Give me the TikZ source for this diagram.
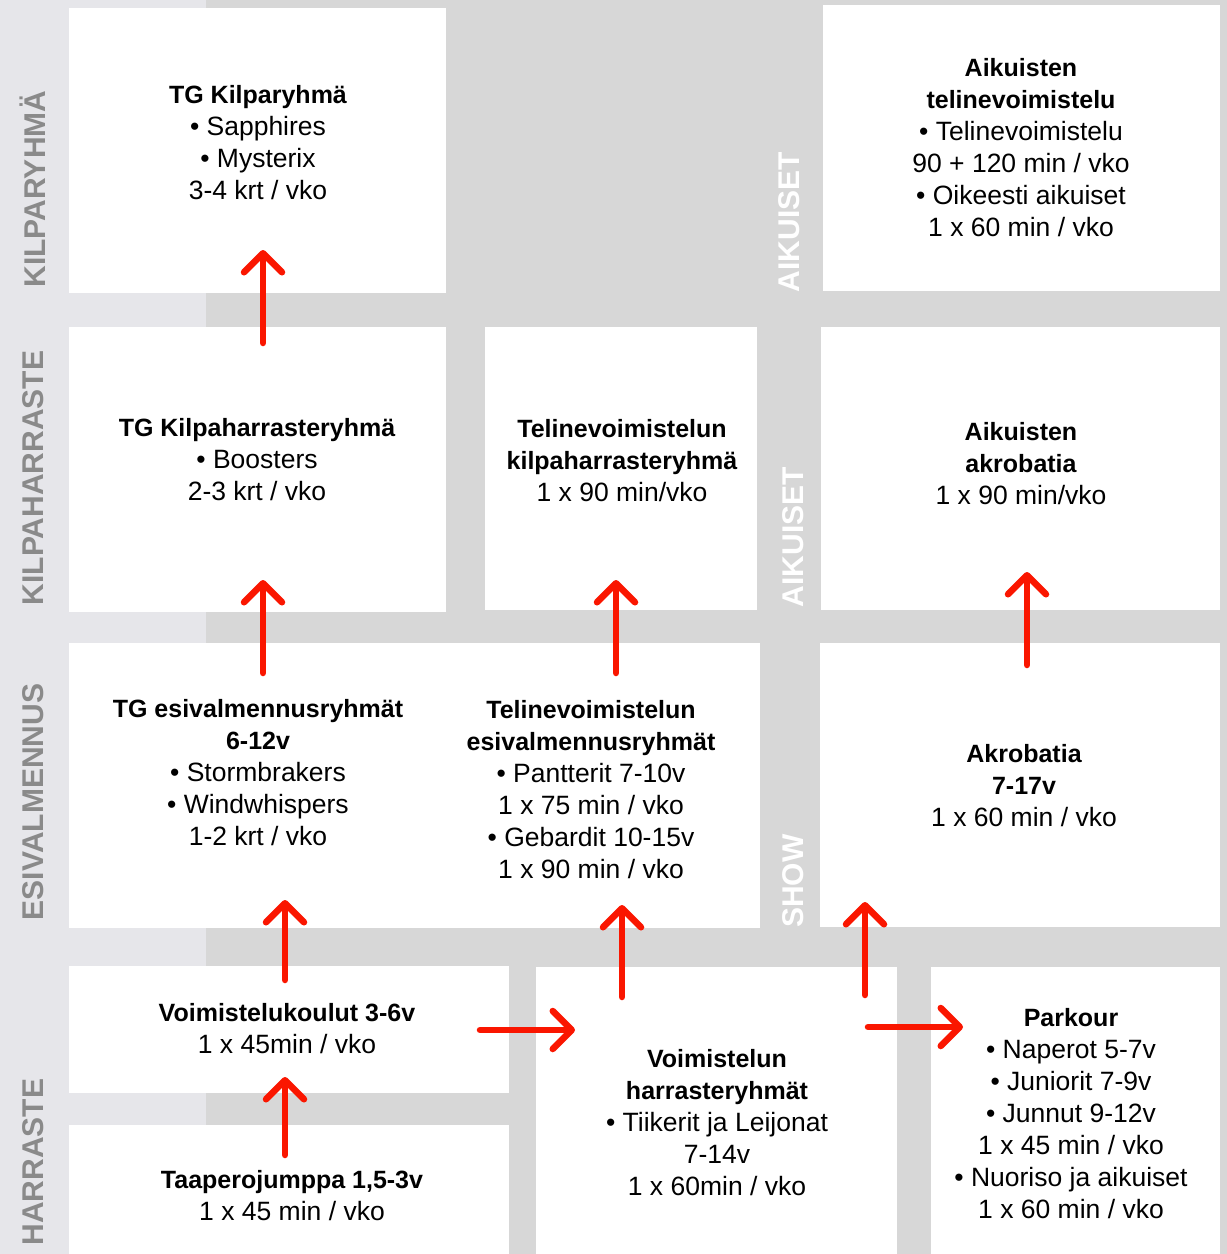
\documentclass[tikz,border=0pt]{standalone}
\usepackage{fontspec}
\setmainfont{Liberation Sans}
\usetikzlibrary{positioning, arrows.meta, calc}
\definecolor{pathgray}{RGB}{215, 215, 215}
\definecolor{stripgray}{RGB}{230, 230, 234}
\definecolor{levelgray}{RGB}{138, 138, 138}
\definecolor{arrowred}{RGB}{250, 22, 0}
\newcommand{\hd}[1]{{\fontsize{25}{32}\selectfont\bfseries #1}}

\begin{document}
\begin{tikzpicture}[x=1pt, y=-1pt,
                cell/.style={fill=white, draw=none, inner sep=0pt, outer sep=0pt, anchor=north west},
                info/.style={align=center, inner sep=0pt, font=\fontsize{26.5}{32}\selectfont},
                level/.style={rotate=90, inner sep=0pt, font=\fontsize{30}{30}\selectfont\bfseries, text=levelgray},
                track/.style={rotate=90, inner sep=0pt, font=\fontsize{30}{30}\selectfont\bfseries, text=white},
                uparrow/.style={draw=arrowred, line width=6.5pt, line cap=round,
                    -{Straight Barb[length=19pt, width=38pt, round]}}
            ]
            \useasboundingbox (0,0) rectangle (1227,1254);
            \fill[pathgray] (0,0) rectangle (1227,1254);
            \fill[stripgray] (0,0) rectangle (206,1254);

            % white boxes
            \node[cell, minimum width=377pt, minimum height=285pt] (kr) at (69,8) {};
            \node[cell, minimum width=397pt, minimum height=286pt] (at) at (823,5) {};
            \node[cell, minimum width=377pt, minimum height=285pt] (kh) at (69,327) {};
            \node[cell, minimum width=272pt, minimum height=283pt] (tk) at (485,327) {};
            \node[cell, minimum width=399pt, minimum height=283pt] (aa) at (821,327) {};
            \node[cell, minimum width=691pt, minimum height=285pt] (ev) at (69,643) {};
            \node[cell, minimum width=400pt, minimum height=284pt] (ak) at (820,643) {};
            \node[cell, minimum width=440pt, minimum height=127pt] (vk) at (69,966) {};
            \node[cell, minimum width=440pt, minimum height=129pt] (tj) at (69,1125) {};
            \node[cell, minimum width=361pt, minimum height=287pt] (vh) at (536,967) {};
            \node[cell, minimum width=289pt, minimum height=287pt] (pk) at (931,967) {};

            % level labels
            \node[level] (lkr) at (33,189) {KILPARYHMÄ};
            \node[level] (lkh) at (33,478) {KILPAHARRASTE};
            \node[level] (lev) at (33,802) {ESIVALMENNUS};
            \node[level] (lhr) at (33,1162) {HARRASTE};

            % track labels
            \node[track] (tat) at (789,222) {AIKUISET};
            \node[track] (taa) at (793,537) {AIKUISET};
            \node[track] (tsh) at (793,881) {SHOW};

            % texts
            \node[info] (kr-t) at (258,143)
                {\hd{TG Kilparyhmä}\\
                 • Sapphires\\
                 • Mysterix\\
                 3-4 krt / vko};
            \node[info] (at-t) at (1021,148)
                {\hd{Aikuisten}\\
                 \hd{telinevoimistelu}\\
                 • Telinevoimistelu\\
                 90 + 120 min / vko\\
                 • Oikeesti aikuiset\\
                 1 x 60 min / vko};
            \node[info] (kh-t) at (257,460)
                {\hd{TG Kilpaharrasteryhmä}\\
                 • Boosters\\
                 2-3 krt / vko};
            \node[info] (tk-t) at (622,461)
                {\hd{Telinevoimistelun}\\
                 \hd{kilpaharrasteryhmä}\\
                 1 x 90 min/vko};
            \node[info] (aa-t) at (1021,464)
                {\hd{Aikuisten}\\
                 \hd{akrobatia}\\
                 1 x 90 min/vko};
            \node[info] (ev-l) at (258,773)
                {\hd{TG esivalmennusryhmät}\\
                 \hd{6-12v}\\
                 • Stormbrakers\\
                 • Windwhispers\\
                 1-2 krt / vko};
            \node[info] (ev-r) at (591,790)
                {\hd{Telinevoimistelun}\\
                 \hd{esivalmennusryhmät}\\
                 • Pantterit 7-10v\\
                 1 x 75 min / vko\\
                 • Gebardit 10-15v\\
                 1 x 90 min / vko};
            \node[info] (ak-t) at (1024,786)
                {\hd{Akrobatia}\\
                 \hd{7-17v}\\
                 1 x 60 min / vko};
            \node[info] (vk-t) at (287,1029)
                {\hd{Voimistelukoulut 3-6v}\\
                 1 x 45min / vko};
            \node[info] (tj-t) at (292,1196)
                {\hd{Taaperojumppa 1,5-3v}\\
                 1 x 45 min / vko};
            \node[info] (vh-t) at (717,1123)
                {\hd{Voimistelun}\\
                 \hd{harrasteryhmät}\\
                 • Tiikerit ja Leijonat\\
                 7-14v\\
                 1 x 60min / vko};
            \node[info] (pk-t) at (1071,1114)
                {\hd{Parkour}\\
                 • Naperot 5-7v\\
                 • Juniorit 7-9v\\
                 • Junnut 9-12v\\
                 1 x 45 min / vko\\
                 • Nuoriso ja aikuiset\\
                 1 x 60 min / vko};

            % arrows
            \draw[uparrow] ($(kh.north)+(5.5,16)$) -- ($(kr.south)+(5.5,-43)$);
            \draw[uparrow] ($(ev.north west)+(194,30)$) -- ($(kh.south)+(5.5,-32)$);
            \draw[uparrow] ($(vk.north)+(-4,14)$) -- ($(ev.south west)+(216,-28)$);
            \draw[uparrow] ($(tj.north)+(-4,30)$) -- ($(vk.south)+(-4,-16)$);
            \draw[uparrow] ($(ev.north west)+(547,30)$) -- ($(tk.south)+(-5,-30)$);
            \draw[uparrow] ($(vh.north)+(-94.5,30)$) -- ($(ev.south east)+(-138,-23)$);
            \draw[uparrow] ($(ak.north)+(7,22)$) -- ($(aa.south)+(6.5,-38)$);
            \draw[uparrow] ($(vh.north east)+(-32,28)$) -- ($(ak.south west)+(45,-25)$);
            \draw[uparrow] ($(vk.east)+(-29,0.5)$) -- ($(vh.west)+(39,-80.5)$);
            \draw[uparrow] ($(vh.east)+(-29,-83.5)$) -- ($(pk.west)+(32,-83.5)$);

            \end{tikzpicture}
\end{document}
